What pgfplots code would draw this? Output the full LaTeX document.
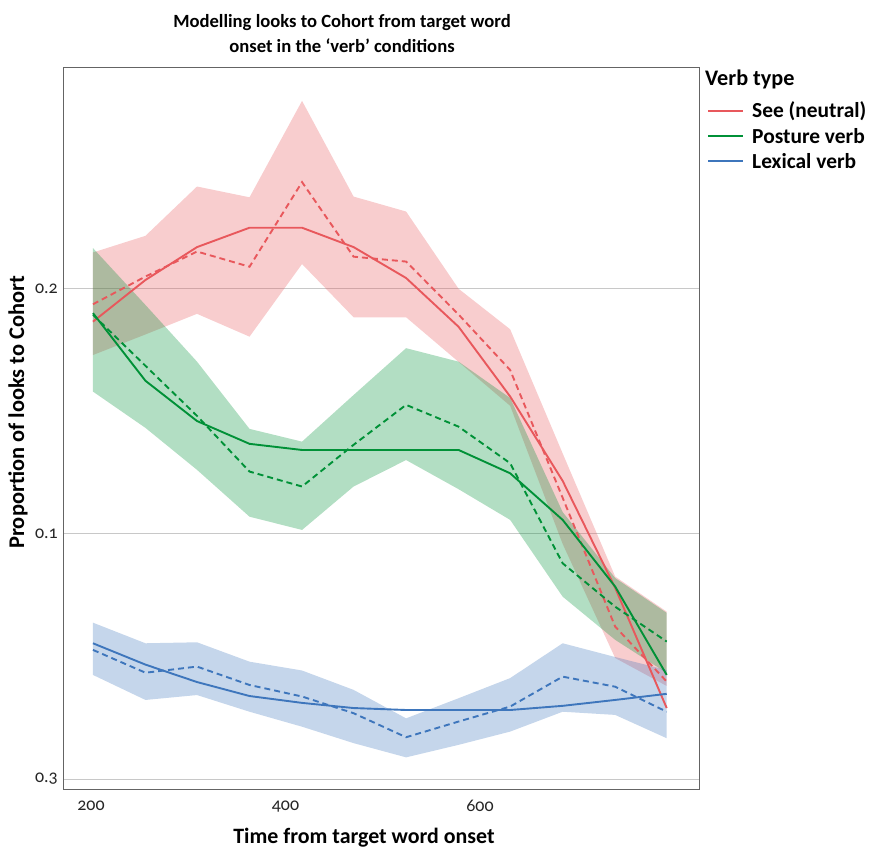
\documentclass[border=0pt]{standalone}
\usepackage{fontspec}
\setmainfont{Carlito}
\newfontfamily\tickfont[Numbers=OldStyle]{Carlito}
\usepackage{pgfplots}
\pgfplotsset{compat=1.18}
\usepackage{pgfplotstable}
\usepgfplotslibrary{fillbetween}

\definecolor{cRed}{RGB}{232,88,92}
\definecolor{cGreen}{RGB}{0,145,55}
\definecolor{cBlue}{RGB}{62,118,188}
\definecolor{gridc}{RGB}{200,200,200}
\definecolor{framec}{RGB}{100,100,100}

% x: time (ms); up/lo: ribbon; fit: solid line; obs: dashed line
\pgfplotstableread{
x   up    lo    fit   obs
202 2.146 1.728 1.864 1.935
256 2.214 1.812 2.034 2.048
309 2.415 1.896 2.168 2.150
363 2.371 1.803 2.247 2.088
417 2.764 2.099 2.247 2.433
470 2.374 1.882 2.168 2.129
524 2.313 1.882 2.042 2.109
578 1.998 1.700 1.843 1.893
631 1.833 1.521 1.559 1.667
685 1.327 0.958 1.215 1.146
739 0.825 0.493 0.779 0.621
792 0.682 0.379 0.289 0.397
}\redtab
\pgfplotstableread{
x   up    lo    fit   obs
202 2.164 1.579 1.899 1.892
256 1.932 1.431 1.623 1.684
309 1.701 1.260 1.459 1.480
363 1.427 1.069 1.366 1.253
417 1.375 1.015 1.341 1.192
470 1.565 1.192 1.341 1.362
524 1.756 1.300 1.341 1.525
578 1.701 1.181 1.341 1.436
631 1.553 1.056 1.246 1.287
685 1.088 0.743 1.056 0.879
739 0.819 0.567 0.784 0.702
792 0.677 0.432 0.424 0.560
}\greentab
\pgfplotstableread{
x   up    lo    fit   obs
202 0.637 0.424 0.553 0.526
256 0.553 0.322 0.466 0.433
309 0.557 0.342 0.395 0.458
363 0.478 0.274 0.338 0.383
417 0.442 0.213 0.310 0.336
470 0.363 0.146 0.289 0.268
524 0.247 0.088 0.281 0.170
578 0.329 0.139 0.281 0.234
631 0.411 0.193 0.281 0.295
685 0.553 0.274 0.298 0.417
739 0.497 0.261 0.322 0.376
792 0.444 0.166 0.347 0.274
}\bluetab

\begin{document}
\begin{tikzpicture}
\begin{axis}[
  name=ax,
  at={(0,0)}, anchor=south west,
  scale only axis, width=635.7bp, height=721.7bp,
  xmin=171.5, xmax=825.2, ymin=-0.041, ymax=2.901,
  xtick={200,400,600}, xticklabels={200,400,600},
  ytick={0,1,2}, yticklabels={0.3,0.1,0.2},
  major tick length=0pt,
  ymajorgrids, grid style={gridc, line width=0.8bp},
  axis line style={framec, line width=0.8bp},
  tick label style={font=\tickfont\fontsize{18}{21}\selectfont, text=black!85},
  xticklabel style={yshift=-8bp},
  yticklabel style={xshift=-2bp},
  title={Modelling looks to Cohort from target word\\onset in the ‘verb’ conditions},
  title style={at={(axis description cs:0.4384,1)}, anchor=south, align=center,
    font=\bfseries\fontsize{18.7}{25}\selectfont, yshift=5bp},
  xlabel={Time from target word onset},
  xlabel style={at={(axis description cs:0.473,0)}, anchor=north, yshift=-36bp,
    font=\bfseries\fontsize{22}{25}\selectfont},
  ylabel={Proportion of looks to Cohort},
  ylabel style={at={(axis description cs:-0.0505,0.522)}, anchor=south,
    font=\bfseries\fontsize{22.5}{25}\selectfont},
]
% ribbons
\addplot[name path=ru, draw=none, forget plot] table[x=x,y=up] {\redtab};
\addplot[name path=rl, draw=none, forget plot] table[x=x,y=lo] {\redtab};
\addplot[fill=cRed, fill opacity=0.3, draw=none, forget plot] fill between[of=ru and rl];
\addplot[name path=gu, draw=none, forget plot] table[x=x,y=up] {\greentab};
\addplot[name path=gl, draw=none, forget plot] table[x=x,y=lo] {\greentab};
\addplot[fill=cGreen, fill opacity=0.3, draw=none, forget plot] fill between[of=gu and gl];
\addplot[name path=bu, draw=none, forget plot] table[x=x,y=up] {\bluetab};
\addplot[name path=bl, draw=none, forget plot] table[x=x,y=lo] {\bluetab};
\addplot[fill=cBlue, fill opacity=0.3, draw=none, forget plot] fill between[of=bu and bl];
% lines
\addplot[cRed, line width=1.9bp, no marks, forget plot] table[x=x,y=fit] {\redtab};
\addplot[cRed, line width=1.9bp, no marks, dash pattern=on 6bp off 4bp, forget plot] table[x=x,y=obs] {\redtab};
\addplot[cGreen, line width=1.9bp, no marks, forget plot] table[x=x,y=fit] {\greentab};
\addplot[cGreen, line width=1.9bp, no marks, dash pattern=on 6bp off 4bp, forget plot] table[x=x,y=obs] {\greentab};
\addplot[cBlue, line width=1.9bp, no marks, forget plot] table[x=x,y=fit] {\bluetab};
\addplot[cBlue, line width=1.9bp, no marks, dash pattern=on 6bp off 4bp, forget plot] table[x=x,y=obs] {\bluetab};
\end{axis}
% legend
\node[anchor=west, font=\bfseries\fontsize{22.3}{25}\selectfont, inner sep=0pt]
  at ([xshift=6bp,yshift=-12bp]ax.north east) {Verb type};
\draw[cRed, line width=1.9bp] ([xshift=9bp,yshift=-43.7bp]ax.north east) -- ++(35bp,0);
\draw[cGreen, line width=1.9bp] ([xshift=9bp,yshift=-68.7bp]ax.north east) -- ++(35bp,0);
\draw[cBlue, line width=1.9bp] ([xshift=9bp,yshift=-93.7bp]ax.north east) -- ++(35bp,0);
\node[anchor=west, font=\bfseries\fontsize{21.5}{24}\selectfont, inner sep=0pt]
  at ([xshift=53bp,yshift=-43.7bp]ax.north east) {See (neutral)};
\node[anchor=west, font=\bfseries\fontsize{21.5}{24}\selectfont, inner sep=0pt]
  at ([xshift=53bp,yshift=-68.7bp]ax.north east) {Posture verb};
\node[anchor=west, font=\bfseries\fontsize{21.5}{24}\selectfont, inner sep=0pt]
  at ([xshift=53bp,yshift=-93.7bp]ax.north east) {Lexical verb};
\path (-63.3bp,-58bp) rectangle (807.7bp,789bp);
\end{tikzpicture}
\end{document}
